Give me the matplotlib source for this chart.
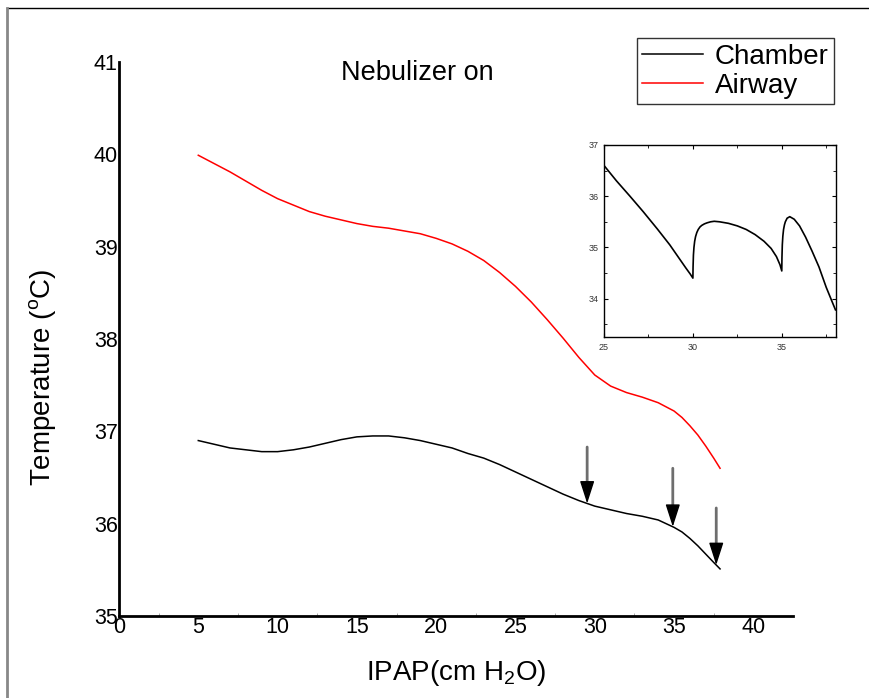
import numpy as np
import matplotlib
matplotlib.use("Agg")
import matplotlib.pyplot as plt
from matplotlib.lines import Line2D

# Data
ipap_airway = [5.0, 6.0, 7.0, 8.0, 9.0, 10.0, 11.0, 12.0, 13.0, 14.0, 15.0,
               16.0, 17.0, 18.0, 19.0, 20.0, 21.0, 22.0, 23.0, 24.0, 25.0,
               26.0, 27.0, 28.0, 29.0, 30.0, 31.0, 32.0, 33.0, 34.0, 35.0,
               35.5, 36.0, 36.5, 37.0, 37.5, 37.9]
temp_airway = [39.99, 39.90, 39.81, 39.71, 39.61, 39.52, 39.45, 39.38, 39.33,
               39.29, 39.25, 39.22, 39.20, 39.17, 39.14, 39.09, 39.03, 38.95,
               38.85, 38.72, 38.57, 38.40, 38.21, 38.01, 37.80, 37.61, 37.49,
               37.42, 37.37, 37.31, 37.22, 37.15, 37.06, 36.96, 36.84, 36.71,
               36.60]

ipap_chamber = [5.0, 6.0, 7.0, 8.0, 9.0, 10.0, 11.0, 12.0, 13.0, 14.0, 15.0,
                16.0, 17.0, 18.0, 19.0, 20.0, 21.0, 22.0, 23.0, 24.0, 25.0,
                26.0, 27.0, 28.0, 29.0, 30.0, 31.0, 32.0, 33.0, 34.0, 35.0,
                35.5, 36.0, 36.5, 37.0, 37.5, 37.9]
temp_chamber = [36.90, 36.86, 36.82, 36.80, 36.78, 36.78, 36.80, 36.83, 36.87,
                36.91, 36.94, 36.95, 36.95, 36.93, 36.90, 36.86, 36.82, 36.76,
                36.71, 36.64, 36.56, 36.48, 36.40, 36.32, 36.25, 36.19, 36.15,
                36.11, 36.08, 36.04, 35.96, 35.91, 35.84, 35.76, 35.67, 35.58,
                35.51]

# arrows marking the dips (x position, start height)
arrow_x = [29.52, 34.92, 37.66]
arrow_top = [36.83, 36.60, 36.17]

# inset: chamber temperature zoomed in
inset_x = [25.0, 25.7, 26.46, 27.2, 28.0, 28.7, 29.2, 29.6, 29.85, 30.0,
           30.01, 30.03, 30.06, 30.1, 30.15, 30.22, 30.3, 30.4, 30.5, 30.65,
           30.8, 31.0, 31.2, 31.5, 32.0, 32.5, 33.0, 33.5, 34.0, 34.4, 34.7,
           34.9, 35.0, 35.01, 35.03, 35.06, 35.1, 35.15, 35.2, 35.3, 35.45,
           35.7, 36.0, 36.34, 36.7, 37.09, 37.5, 38.02]
inset_t = [36.6, 36.3, 36.0, 35.7, 35.36, 35.05, 34.8, 34.6, 34.48, 34.4,
           34.62, 34.85, 35.0, 35.12, 35.21, 35.29, 35.35, 35.4, 35.43, 35.46,
           35.48, 35.5, 35.51, 35.5, 35.47, 35.42, 35.35, 35.25, 35.12, 34.98,
           34.82, 34.66, 34.54, 34.8, 35.05, 35.22, 35.35, 35.44, 35.5, 35.57,
           35.6, 35.55, 35.42, 35.2, 34.93, 34.62, 34.22, 33.78]

plt.rcParams["font.family"] = ["Liberation Sans", "DejaVu Sans"]
plt.rcParams["mathtext.fontset"] = "custom"
plt.rcParams["mathtext.rm"] = "Liberation Sans"
plt.rcParams["mathtext.it"] = "Liberation Sans"

fig = plt.figure(figsize=(8.69, 6.98), dpi=100)

# figure frame lines (top and left only)
fig.add_artist(Line2D([7 / 869, 1.0], [1 - 8 / 698, 1 - 8 / 698],
                      color="black", lw=1, transform=fig.transFigure))
fig.add_artist(Line2D([7 / 869, 7 / 869], [0.0, 1 - 8 / 698],
                      color="#888888", lw=2, transform=fig.transFigure))

ax = fig.add_axes([119 / 869, 1 - 616 / 698, (793 - 119) / 869, (616 - 62) / 698])
ax.plot(ipap_chamber, temp_chamber, color="black", lw=1.1, label="Chamber")
ax.plot(ipap_airway, temp_airway, color="red", lw=1.1, label="Airway")

# gray shaft, solid black head
for xa, top in zip(arrow_x, arrow_top):
    tip = np.interp(xa, ipap_chamber, temp_chamber)
    ax.annotate("", xy=(xa, tip + 0.1), xytext=(xa, top),
                arrowprops=dict(arrowstyle="-", color="#6e6e6e", lw=2,
                                shrinkA=0, shrinkB=0))
    ax.annotate("", xy=(xa, tip), xytext=(xa, tip + 0.17),
                arrowprops=dict(arrowstyle="-|>,head_length=1.4,head_width=0.45",
                                color="black", lw=1, shrinkA=0, shrinkB=0))

ax.set_xlim(0, 42.5)
ax.set_ylim(35, 41)
ax.set_xticks(range(0, 41, 5))
ax.set_xticks(np.arange(2.5, 42.5, 5), minor=True)
ax.set_yticks(range(35, 42))
for s in ["top", "right"]:
    ax.spines[s].set_visible(False)
for s in ["left", "bottom"]:
    ax.spines[s].set_linewidth(2)
ax.tick_params(axis="both", which="major", length=0, labelsize=15.5, pad=1)
ax.tick_params(axis="x", which="minor", length=2, direction="in", color="#999999")

ax.set_xlabel("IPAP(cm H$_2$O)", fontsize=20, labelpad=14)
ax.set_ylabel("Temperature ($^{\\rm o}$C)", fontsize=20)
ax.yaxis.set_label_coords(-0.09, 0.43)
fig.text(417 / 869, 1 - 73 / 698, "Nebulizer on", fontsize=19.5,
         ha="center", va="center")

leg = fig.legend(loc="upper right", bbox_to_anchor=(834 / 869, 1 - 38 / 698),
                 fontsize=20, frameon=True, fancybox=False, handlelength=2.2,
                 borderpad=0.2, labelspacing=0.12, handletextpad=0.4,
                 borderaxespad=0)
leg.get_frame().set_edgecolor("black")
leg.get_frame().set_linewidth(1)

# inset
axi = fig.add_axes([604 / 869, 1 - 337 / 698, (836 - 604) / 869, (337 - 145) / 698])
axi.plot(inset_x, inset_t, color="black", lw=1.2)
axi.set_xlim(25, 38.05)
axi.set_ylim(33.25, 37)
axi.set_xticks([25, 30, 35])
axi.set_xticks([27.5, 32.5, 37.5], minor=True)
axi.set_yticks([34, 35, 36, 37])
axi.set_yticks([33.5, 34.5, 35.5, 36.5], minor=True)
axi.tick_params(which="both", direction="in", top=True, right=True,
                labelsize=6.5, labelcolor="#333333", pad=4)
axi.tick_params(which="major", length=3)
axi.tick_params(which="minor", length=2)
for s in axi.spines.values():
    s.set_linewidth(1)

fig.savefig("out.png", dpi=100)
